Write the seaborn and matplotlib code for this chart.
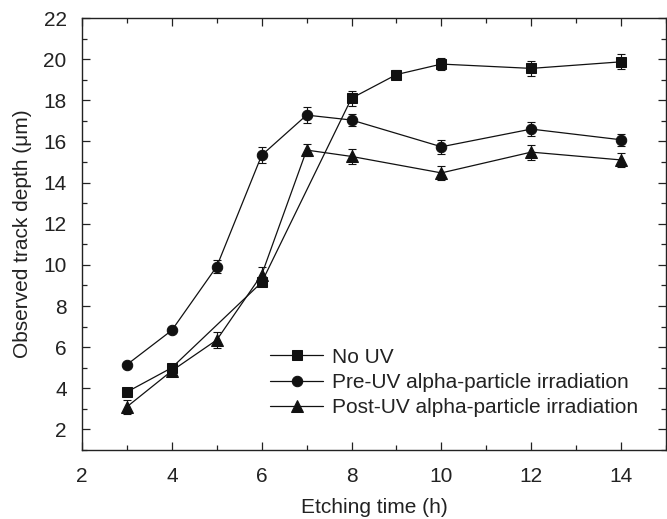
import matplotlib
matplotlib.use("Agg")
import matplotlib.pyplot as plt
import seaborn as sns
import numpy as np
import pandas as pd
from matplotlib.ticker import MultipleLocator

# Data
x_no_uv = [3, 4, 6, 8, 9, 10, 12, 14]
y_no_uv = [3.82, 5.0, 9.15, 18.1, 19.25, 19.76, 19.55, 19.87]
e_no_uv = [0.2, 0.2, 0.2, 0.37, 0.23, 0.28, 0.38, 0.36]

x_pre = [3, 4, 5, 6, 7, 8, 10, 12, 14]
y_pre = [5.15, 6.82, 9.92, 15.33, 17.28, 17.04, 15.74, 16.6, 16.08]
e_pre = [0.15, 0.15, 0.3, 0.38, 0.38, 0.28, 0.34, 0.35, 0.29]

x_post = [3, 4, 5, 6, 7, 8, 10, 12, 14]
y_post = [3.1, 4.85, 6.35, 9.52, 15.58, 15.27, 14.47, 15.48, 15.1]
e_post = [0.34, 0.25, 0.4, 0.4, 0.3, 0.35, 0.34, 0.36, 0.33]

labels = ["No UV", "Pre-UV alpha-particle irradiation", "Post-UV alpha-particle irradiation"]
markers = ["s", "o", "^"]
msizes = [6.5, 7.5, 8.5]

sns.set_style("ticks")
plt.rcParams['font.family'] = ['Liberation Sans', 'DejaVu Sans']

fig = plt.figure(figsize=(6.67, 5.19), dpi=100)
ax = fig.add_axes([82/667, 69/519, 584/667, 432/519])

series = [(x_no_uv, y_no_uv, e_no_uv), (x_pre, y_pre, e_pre), (x_post, y_post, e_post)]
for (xs, ys, es), lab, mk, ms in zip(series, labels, markers, msizes):
    ax.errorbar(xs, ys, yerr=es, fmt='none', ecolor='#111111', elinewidth=0.8,
                capsize=3, capthick=0.8, zorder=2)
    sns.lineplot(x=xs, y=ys, ax=ax, color='#111111', linewidth=0.9, marker=mk,
                 markersize=ms, markeredgecolor='#111111', markerfacecolor='#111111',
                 label=lab, zorder=3)

ax.set_xlim(2, 15)
ax.set_ylim(1, 22)
ax.xaxis.set_major_locator(MultipleLocator(2))
ax.xaxis.set_minor_locator(MultipleLocator(1))
ax.yaxis.set_major_locator(MultipleLocator(2))
ax.yaxis.set_minor_locator(MultipleLocator(1))
ax.set_xticks([2, 4, 6, 8, 10, 12, 14])
ax.set_yticks([2, 4, 6, 8, 10, 12, 14, 16, 18, 20, 22])

ax.tick_params(which='both', direction='in', top=True, right=True,
               labeltop=False, labelright=False, colors='#222222', labelcolor='#222222')
ax.tick_params(which='major', length=6, width=0.9, labelsize=15)
ax.tick_params(axis='x', which='major', pad=12)
ax.tick_params(axis='y', which='major', pad=11)
ax.tick_params(which='minor', length=3.5, width=0.9)
for s in ax.spines.values():
    s.set_visible(True)
    s.set_color('#222222')
    s.set_linewidth(1.0)

ax.set_xlabel('Etching time (h)', fontsize=15, color='#222222', labelpad=9)
ax.set_ylabel('Observed track depth (μm)', fontsize=15, color='#222222', labelpad=8)

ax.legend(loc='upper left', bbox_to_anchor=(0.322, 0.237), frameon=False,
          fontsize=15, handlelength=2.55, handletextpad=0.43, labelspacing=0.3,
          borderpad=0, borderaxespad=0, labelcolor='#222222')

fig.savefig('out.png', dpi=100)
